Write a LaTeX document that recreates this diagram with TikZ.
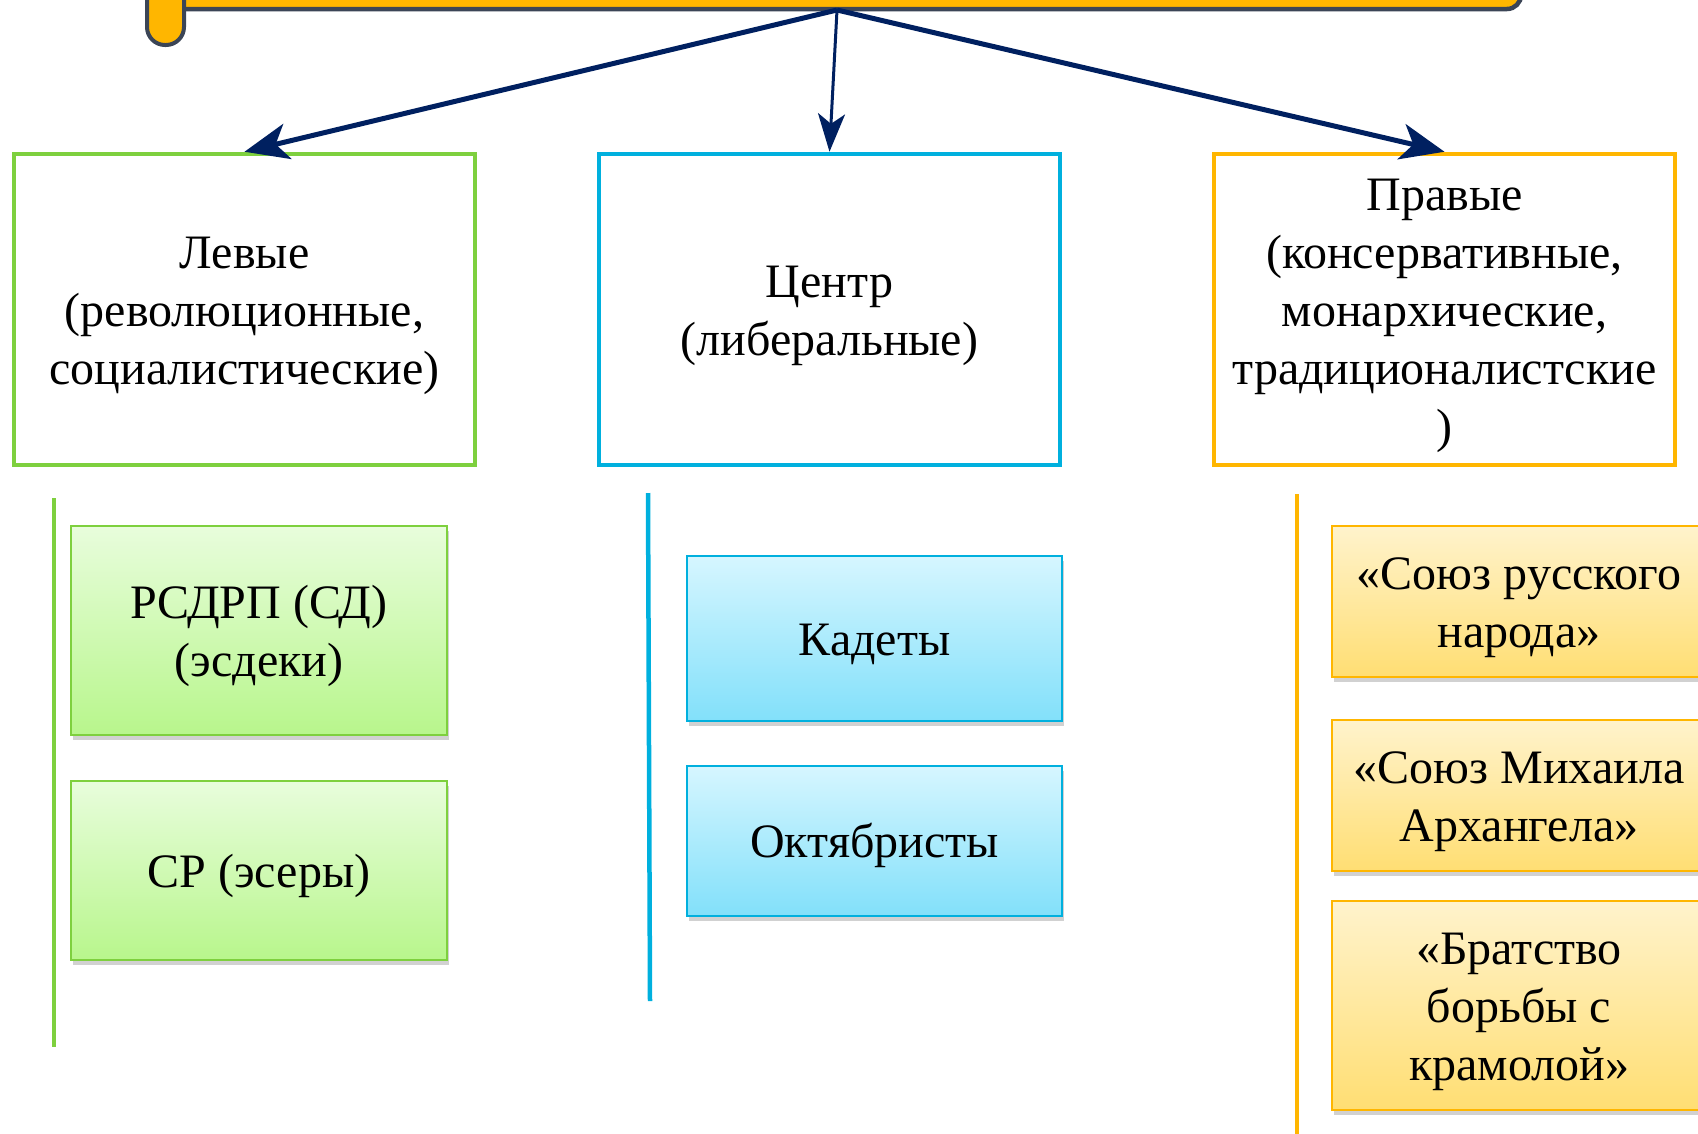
\documentclass[tikz,border=0pt]{standalone}
\usepackage{fontspec}
\setmainfont{Liberation Serif}
\usetikzlibrary{arrows.meta,shadows}
\definecolor{grn}{RGB}{126,208,62}
\definecolor{cyn}{RGB}{0,176,222}
\definecolor{org}{RGB}{255,182,0}
\definecolor{navy}{RGB}{0,32,96}
\definecolor{slate}{RGB}{59,69,86}
\definecolor{gtop}{RGB}{232,253,220}
\definecolor{gbot}{RGB}{184,246,140}
\definecolor{ctop}{RGB}{214,246,255}
\definecolor{cbot}{RGB}{130,224,250}
\definecolor{otop}{RGB}{255,243,204}
\definecolor{obot}{RGB}{255,222,115}
\newcommand{\mytxt}[1]{\raisebox{-5pt}[\height][\depth]{\begin{tabular}{@{}c@{}}#1\end{tabular}}}
\begin{document}
\begin{tikzpicture}[x=1pt,y=-1pt,
  txt/.style={font=\fontsize{48}{58}\selectfont, align=center, text=black},
  bigbox/.style={txt, draw, line width=4.5pt, fill=white, minimum width=461pt, minimum height=311pt, inner sep=0pt},
  smallbox/.style={txt, draw, line width=1.8pt, inner sep=0pt,
     drop shadow={shadow xshift=2pt, shadow yshift=-5pt, opacity=0.3, fill=black!60}},
  gbox/.style={smallbox, draw=grn, top color=gtop, bottom color=gbot, minimum width=376pt},
  cbox/.style={smallbox, draw=cyn, top color=ctop, bottom color=cbot, minimum width=375pt},
  obox/.style={smallbox, draw=org, top color=otop, bottom color=obot, minimum width=374pt},
  arr/.style={draw=navy, line width=5pt, -{Stealth[length=44pt, width=36pt, inset=12pt]}},
  arrthin/.style={draw=navy, line width=3pt, -{Stealth[length=38pt, width=27pt, inset=10pt]}},
  rail/.style={line width=4.5pt}
]
\useasboundingbox (0,0) rectangle (1698,1133);
\clip (0,0) rectangle (1698,1133);
% banner
\draw[fill=org, draw=slate, line width=4.5pt, rounded corners=14pt] (147,-40) rectangle (1521,9);
\draw[fill=org, draw=slate, line width=4pt, rounded corners=18pt] (147,-30) rectangle (184,45);
\coordinate (src) at (837,10);
% big boxes
\node[bigbox, draw=grn] (L) at (244.5,309.5) {\mytxt{Левые\\(революционные,\\социалистические)}};
\node[bigbox, draw=cyn] (C) at (829.5,309.5) {\mytxt{Центр\\(либеральные)}};
\node[bigbox, draw=org] (R) at (1444.5,309.5) {\mytxt{Правые\\(консервативные,\\монархические,\\традиционалистские\\)}};
% arrows
\draw[arr] (src) -- (L.north);
\draw[arrthin] (src) -- (C.north);
\draw[arr] (src) -- (R.north);
% rails
\coordinate (g1) at (54,498); \coordinate (g2) at (54,1047);
\coordinate (c1) at (648,493); \coordinate (c2) at (650,1001);
\coordinate (o1) at (1297,494); \coordinate (o2) at (1297,1140);
\draw[rail, grn] (g1) -- (g2);
\draw[rail, cyn] (c1) -- (c2);
\draw[rail, org] (o1) -- (o2);
% small boxes
\node[gbox, minimum height=209pt] (G1) at (259,630.5) {\mytxt{РСДРП (СД)\\(эсдеки)}};
\node[gbox, minimum height=179pt] (G2) at (259,870.5) {\mytxt{СР (эсеры)}};
\node[cbox, minimum height=165pt] (C1) at (874.5,638.5) {\mytxt{Кадеты}};
\node[cbox, minimum height=150pt] (C2) at (874.5,841) {\mytxt{Октябристы}};
\node[obox, minimum height=151pt] (O1) at (1519,601.5) {\mytxt{«Союз русского\\народа»}};
\node[obox, minimum height=151pt] (O2) at (1519,795.5) {\mytxt{«Союз Михаила\\Архангела»}};
\node[obox, minimum height=209pt] (O3) at (1519,1005.5) {\mytxt{«Братство\\борьбы с\\крамолой»}};
\end{tikzpicture}
\end{document}
